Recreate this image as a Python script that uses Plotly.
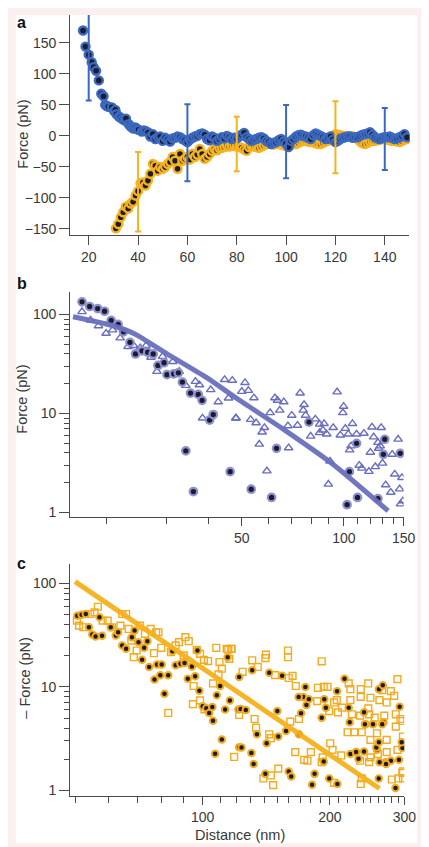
import plotly.graph_objects as go

W, H = 429, 847

# ---------------- Panel a data (distance nm, force pN) ----------------
blue_a = [(17.7,170),(18.7,144),(20,131),(21.2,119),(22,111),(23,105),(24.1,89.5),(25.1,68),(26,64),
          (26.7,50),(27.3,48),(28,47),(29.4,46),(30.3,40),(30.8,42),(31.3,35),(32.3,31),(32.8,30),(33.6,27),
          (34.5,25),(35.1,28),(36.2,19),(36.8,16),(37.5,13.6),(38.2,12),(38.9,13.6),(39.6,11),(40.2,10),
          (41.5,7),(42.3,9),(43,8),(44.1,5.6),
          (45,-1),(46,3),(47,-5),(48,-2),(49,-1),(50,-8),(51,-3),(52,-6),(53,-9),(54,-4),(55,-3),(56,-1),
          (57,-2),(58,-5),(59,-7),(60,-10),(61,-6),(62,-3),(63,-1),(64,0),(65,3),(66,4),(67,2),(68,-5),
          (69,-7),(70,-1),(71,-3),(72,-8),(73,-5),(74,-2),(75,-4),(76,0),(77,-2),(78,-5),(79,-3),(80,-4),
          (81,-1),(82,2),(83,5),(84,-2),(85,-5),(86,-8),(87,-6),(88,-5),(89,-3),(90,-2),(91,-4),(92,-8),
          (93,-10),(94,-13),(95,-11),(96,-10),(97,-7),(98,-5),(99,-9),(100,-12),(101,-18),(102,-8),(103,-5),
          (104,-1),(105,1),(106,2),(107,0),(108,-1),(109,-3),(110,-5),(111,1),(112,4),(113,2),(114,0),
          (115,-2),(116,-5),(117,-3),(118,-1),(119,-6),(120,-10),(121,-8),(122,-5),(123,-3),(124,-2),
          (125,-1),(126,-1),(127,-3),(128,-2),(129,-2),(130,0),(131,2),(132,3),(133,4),(134,6),(135,2),
          (136,-2),(137,-4),(138,-5),(139,-3),(140,-2),(141,-2),(142,-1),(143,-3),(144,-5),(145,-4),
          (146,-2),(147,0),(148,3),(149,-2)]

yellow_a = [(31,-149),(32,-142),(33,-131),(34,-123),(35,-114),(36,-117),(37,-109),(38,-106),(39,-96),
            (40,-89),(41,-76),(42,-75),(43,-80),(44,-72),(45,-61),(46,-45),(47,-48),(48,-56),(49,-50),
            (50,-53),(51,-50),(52,-45),(53,-42),(54,-34),(55,-40),(56,-53),(57,-29),(58,-40),(59,-37),
            (60,-34),(61,-38),(62,-29),(63,-34),(64,-30),(65,-21),(66,-29),(67,-37),(68,-34),(69,-29),
            (70,-24),(71,-21),(72,-23),(73,-20),(74,-19),(75,-18),(76,-16),(77,-17),(78,-16),(79,-15),
            (80,-17),(81,-18),(82,-19),(83,-22),(84,-24),(85,-18),(86,-16),(87,-17),(88,-18),(89,-19),
            (90,-17),(91,-15),(92,-13),(93,-12),(94,-13),(95,-14),(96,-13),(97,-12),(98,-14),(99,-15),
            (100,-16),(101,-15),(102,-14),(103,-13),(104,-13),(105,-11),(106,-9),(107,-8),(108,-8),
            (109,-9),(110,-10),(111,-10),(112,-12),(113,-13),(114,-13),(115,-11),(116,-9),(117,-8),
            (118,-4),(119,0),(120,3),(121,2),(122,1),(123,0),(124,0),(125,-1),(126,-1),(127,-1),(128,-2),
            (129,-5),(130,-9),(131,-12),(132,-13),(133,-11),(134,-9),(135,-8),(136,-8),(137,-7),(138,-6),
            (139,-5),(140,-5),(141,-6),(142,-7),(143,-8),(144,-8),(145,-9),(146,-10),(147,-8),(148,-6),(149,-5)]

# error bars: (x, centre, plus, minus)
blue_err = [(20,130,72,73),(60,-11,62,62),(100,-9,59,59),(140,-5,50,50)]
yellow_err = [(40,-90,64,64),(80,-13,44,44),(120,-2,58,58)]

# ---------------- Panel b data ----------------
b_circles = [(16.9,134.5),(17.8,120.6),(18.8,115),(19.7,108),(20.6,87.3),(21.6,79.5),(22.4,67),(23.4,52.4),
             (24.3,40),(25.4,43),(26.4,41.6),(27.4,40),(28.3,30.6),(29.5,32.6),(30.1,24.7),(31.5,25.2),
             (32.5,25.8),(33.4,20.8),(35.3,16.1),(37.2,15.6),(38.2,13.6),(40.2,8.6),(41.2,9.77),(34.2,4.2),
             (36.0,1.63),(46.2,2.59),(63.3,4.45),(53.3,1.72),(61.2,1.42),(78.9,8.2),(109,5.0),(132,5.5),
             (130.8,3.87),(146.6,3.96),(103.8,2.59),(109.7,1.42),(126,1.38),(102.2,1.2)]

b_triangles = [(16.9,106.7),(17.9,88),(18.9,77),(19.9,64.6),(20.8,69.8),(21.9,58),(23.1,47.5),(24.0,48.5),
               (25.1,46),(26.1,48.5),(27.0,37),(29.2,37.7),(31.3,33.5),(28.1,26.6),(32.7,26.6),(34.2,19.2),
               (36.5,21.1),(37.5,19.5),(38.3,9.0),(40.5,17.4),(42.6,13.1),(44.5,22),(46.9,21.6),(45.7,14.3),
               (48.0,9.0),(51.1,20.5),(50.0,16.7),(52.3,17.1),(54.3,14.4),(48.1,9.0),(53.1,8.7),(55.1,8.05),
               (58.3,7.2),(57.4,6.5),(56.3,4.9),(59.3,2.63),(60.6,10.2),(62.6,14.4),(63.7,13.6),(66.5,13.1),
               (64.7,10.8),(68.4,7.5),(70.2,9.6),(68.7,4.5),(74.3,16.1),(76.3,12.3),(75.9,10.8),(77.1,9.6),
               (73.0,7.6),(82.4,8.8),(84.8,7.8),(87.4,7.9),(86.7,6.8),(79.8,5.9),(84.8,6.4),(89.0,6.2),
               (91.0,3.3),(90.0,1.93),(93.0,7.2),(95.5,16.5),(97.6,6.05),(99.8,11.8),(99.3,10.2),(101,7.06),
               (106,7.9),(103,6.2),(105,4.7),(104,4.28),(109,6.2),(113,2.8),(111,3.0),(114.6,6.3),(118.5,2.6),
               (121,7.3),(122.4,5.8),(126.6,4.45),(119.7,4.06),(123.8,2.9),(128.8,7.2),(130,3.15),(128,4.7),
               (126,5.1),(132.8,1.9),(137.5,1.6),(144.5,5.5),(138.8,3.87),(141.2,2.44),(148.3,2.25),
               (146,1.73),(149.3,1.31),(146.9,1.22)]

b_fit = [(15.9,95),(20.6,78),(24.2,63.7),(30.1,40),(39.2,23.3),(48.5,14.1),(66.9,6.8),(93,3.06),(135,1.04)]

# ---------------- Panel c data ----------------
c_circles = [(50.5,48.9),(51.7,50),(52.9,50.8),(53.8,37.8),(54.8,32.1),(55.8,30.7),(57.8,31.2),(57,47.2),
             (60.6,37.8),(62.3,31.4),(63.1,33.8),(64.5,25.2),(65.9,23.4),(68,30.3),(69,35.1),(70.5,27.1),
             (72.7,23.9),(71.9,18.3),(74,27.7),(74.7,15.6),(78,16.5),(80,16.5),(79.4,13),(76.9,11.8),
             (81.2,8.6),(82.9,13),(84.8,22.2),(86.3,16.2),(88.6,16.8),(90.6,17),(92.2,12),(94.3,15.8),
             (96,12.7),(97.2,22.5),(98.2,9.2),(100,6.5),(102,6.2),(103.6,5.6),(105.8,4.7),(105.4,6.4),
             (108,8.3),(110,10.2),(113,6.06),(114.6,19.4),(116,7.4),(111,3.1),(107,2.25),(122,2.6),
             (121.5,6.06),(122,12.5),(131,14.5),(143.7,13.7),(154.2,12.8),(175,10),(173,8),(194,7.6),
             (208,9.1),(216.6,12),(243,4.35),(267.8,4.54),(292.5,6.43),(297,2.56),(270.6,1.87),(261,1.3),
             (286,1.05),(278.8,1.93),(291.4,1.97),(123,6.1),(126.5,5.97),(134.4,3.48),(123.6,2.59),
             (130.4,2.29),(132,1.79),(140.7,1.44),(141.7,2.85),(151,3.31),(150.2,5.84),(157.5,3.75),
             (159.8,1.52),(162,1.36),(169,3.48),(170.9,5.55),(168.7,8),(181.5,1.13),(184,1.44),(191.3,5.04),
             (193.4,1.9),(199.3,1.3),(208.3,1.15),(178.3,7.6),(176,6.7),(195.7,6.3),(222.8,4.54),
             (223.6,2.24),(233.7,2.02),(230.7,2.34),(240.9,2.37),(258.5,2.46),(262.2,1.87),(271.6,1.79),
             (252.9,4.35),(266,4.35),(242,4.35),(221.6,6.3),(257.6,2.59),(261.2,2.92),(295.7,2.92),
             (261.2,9.5),(240.9,5.67),(266.8,10.4)]

c_squares = [(50.4,43.8),(51,39.2),(52.2,37.8),(54.2,50.8),(55.5,52.7),(56.5,59.7),(58,43.8),(59.6,43.8),
             (61,37.8),(63.9,39.2),(64.5,50.8),(65.9,50.8),(66.8,36.4),(67.8,28.1),(68.7,19.4),(69.8,22.5),
             (71.1,39.2),(73,32.6),(75.3,36.4),(77.6,33.8),(78.6,33.8),(76.7,21.2),(79.8,23.9),(82.9,5.6),
             (84.1,21.7),(86.3,25.2),(87.9,27.1),(91,30.3),(92.7,27.7),(90.2,20.2),(95.2,10.2),(96.8,22.9),
             (98.6,20.9),(100.7,18.3),(103,17.8),(94.8,6.8),(98.6,7.4),(107.7,23.9),(109.6,17.4),(111,15),
             (115,22.9),(117,23.4),(115.6,18.7),(118.7,2.1),(122,5.35),(109,13.2),(105.8,10.8),(101,6.06),
             (131,18.1),(141.2,20.5),(140.7,19),(159.2,22.5),(159.2,19.4),(191.3,17.7),(124.3,14),(135,15.6),
             (148.4,13),(163.2,12.8),(159.8,12.2),(166.1,10.2),(187.4,9.8),(193.4,10),(197.5,10),(207.6,7.45),
             (223.6,9.5),(221.6,10.8),(236.6,9.5),(246.5,10.8),(266,9.3),(278.8,9.1),(289,11.9),(236.6,8),
             (249.5,7.85),(262,7.45),(272.5,7.07),(283.9,8.2),(223.6,7.45),(213.9,6.3),(204.6,7.07),
             (199.3,5.84),(209,5.67),(225.6,5.43),(235.8,5.27),(247.7,5.43),(255.3,5.04),(269,5.27),
             (286.4,5.43),(293.8,4.89),(220.3,3.64),(228.4,3.64),(237.9,3.64),(249.5,3.07),(258.5,3.56),
             (272.5,3.07),(297.8,3.31),(289,2.46),(272.5,2.34),(259.8,2.24),(249.5,2.08),(247.7,1.87),
             (235.8,1.93),(212.8,2.17),(202.9,2.46),(200.4,2.85),(192.3,2.08),(177,1.93),(173.9,1.97),
             (165.6,2.34),(180.3,2.34),(191.3,1.87),(151,1.62),(145,1.39),(139.2,1.3),(146.8,1.12),
             (204.6,1.18),(236.6,1.15),(237.9,1.3),(290.4,1.3),(297.8,1.3),(296.8,1.47),(280.3,1.27),
             (143.7,3.48),(145,3.19),(133.8,4.04),(132.7,4.89),(186.6,7.29),(246.5,6.2),(286.4,4.13),
             (297,4.68),(297.8,1.52),(169,4.89),(161.2,4.61),(114,23.4),(117,23.4)]

c_fit = [(49.9,104.5),(262,1.04)]

# tick values
a_xticks = [20, 40, 60, 80, 100, 120, 140]
a_yticks = [-150, -100, -50, 0, 50, 100, 150]
b_xticks = [50, 100, 150]
b_xminor = [20, 30, 40, 60, 70, 80, 90, 110, 120, 130, 140]
c_xticks = [100, 200, 300]
c_xminor = [50, 60, 70, 80, 90, 110, 120, 130, 140, 150, 160, 170, 180, 190,
            210, 220, 230, 240, 250, 260, 270, 280, 290]
log_yticks = [1, 10, 100]
log_yminor = [2, 3, 4, 5, 6, 7, 8, 9, 20, 30, 40, 50, 60, 70, 80, 90]

# ---------------- styling ----------------
DARK = "#1c1c2c"
BLUE = "#3b69c0"
YEL = "#f5b320"
LAV = "#8e91d0"
TRI = "#6a6ebf"
BLINE = "#6a6fbd"
ORG = "#f4aa1e"
CLINE = "#f6b01c"
AX = "#4a4a4a"
TXT = "#383838"
FONT = "Liberation Sans, Arial, Helvetica, sans-serif"


def xs(p):
    return [v[0] for v in p]


def ys(p):
    return [v[1] for v in p]


fig = go.Figure()

# panel a
fig.add_trace(go.Scatter(x=xs(yellow_a), y=ys(yellow_a), mode="markers", xaxis="x", yaxis="y",
                         marker=dict(size=8, color=DARK, line=dict(color=YEL, width=2.4))))
fig.add_trace(go.Scatter(x=xs(blue_a), y=ys(blue_a), mode="markers", xaxis="x", yaxis="y",
                         marker=dict(size=8, color=DARK, line=dict(color=BLUE, width=2.4))))
for errs, col in ((yellow_err, YEL), (blue_err, BLUE)):
    fig.add_trace(go.Scatter(x=[e[0] for e in errs], y=[e[1] for e in errs], mode="markers",
                             xaxis="x", yaxis="y",
                             marker=dict(size=1, color="rgba(0,0,0,0)"),
                             error_y=dict(type="data", symmetric=False,
                                          array=[e[2] for e in errs], arrayminus=[e[3] for e in errs],
                                          color=col, thickness=2, width=3)))

# panel b
fig.add_trace(go.Scatter(x=xs(b_triangles), y=ys(b_triangles), mode="markers", xaxis="x2", yaxis="y2",
                         marker=dict(symbol="triangle-up-open", size=7.5, color=TRI, line=dict(color=TRI, width=1.4))))
fig.add_trace(go.Scatter(x=xs(b_circles), y=ys(b_circles), mode="markers", xaxis="x2", yaxis="y2",
                         marker=dict(size=7.5, color=DARK, line=dict(color=LAV, width=2.2))))
fig.add_trace(go.Scatter(x=xs(b_fit), y=ys(b_fit), mode="lines", xaxis="x2", yaxis="y2",
                         line=dict(color=BLINE, width=5, shape="spline", smoothing=0.6), opacity=0.95))

# panel c
fig.add_trace(go.Scatter(x=xs(c_squares), y=ys(c_squares), mode="markers", xaxis="x3", yaxis="y3",
                         marker=dict(symbol="square-open", size=6.8, color=ORG, line=dict(color=ORG, width=1.4))))
fig.add_trace(go.Scatter(x=xs(c_circles), y=ys(c_circles), mode="markers", xaxis="x3", yaxis="y3",
                         marker=dict(size=6.5, color=DARK, line=dict(color=ORG, width=2))))
fig.add_trace(go.Scatter(x=xs(c_fit), y=ys(c_fit), mode="lines", xaxis="x3", yaxis="y3",
                         line=dict(color=CLINE, width=5), opacity=0.95))

base_axis = dict(showgrid=False, zeroline=False, showline=True, linecolor=AX, linewidth=1.2,
                 ticks="outside", tickcolor=AX, tickwidth=1.2,
                 tickfont=dict(family=FONT, size=14, color=TXT))

fig.update_layout(
    width=W, height=H, margin=dict(l=0, r=0, t=0, b=0), autosize=False,
    paper_bgcolor="#fbeff0", plot_bgcolor="white", showlegend=False,
    font=dict(family=FONT, size=14, color=TXT),
    xaxis=dict(base_axis, domain=[64 / W, 413 / W], range=[12.5, 150], tickmode="array",
               tickvals=a_xticks, ticklen=9, anchor="y"),
    yaxis=dict(base_axis, domain=[1 - 228 / H, 1 - 7 / H], range=[-160, 195], tickmode="array",
               tickvals=a_yticks, ticklen=10, anchor="x"),
    xaxis2=dict(base_axis, type="log", domain=[64 / W, 407 / W], range=[1.1931, 2.1761],
                tickmode="array", tickvals=b_xticks, ticktext=[str(v) for v in b_xticks], ticklen=8,
                minor=dict(tickmode="array", tickvals=b_xminor, ticks="outside", ticklen=6,
                           tickcolor=AX, tickwidth=1.2),
                anchor="y2"),
    yaxis2=dict(base_axis, type="log", domain=[1 - 511 / H, 1 - 285 / H], range=[-0.047, 2.228],
                tickmode="array", tickvals=log_yticks, ticktext=[str(v) for v in log_yticks], ticklen=10,
                minor=dict(tickmode="array", tickvals=log_yminor, ticks="outside", ticklen=5,
                           tickcolor=AX, tickwidth=1.2),
                anchor="x2"),
    xaxis3=dict(base_axis, type="log", domain=[64 / W, 407.7 / W], range=[1.6866, 2.4771],
                tickmode="array", tickvals=c_xticks, ticktext=[str(v) for v in c_xticks], ticklen=8,
                minor=dict(tickmode="array", tickvals=c_xminor, ticks="outside", ticklen=6,
                           tickcolor=AX, tickwidth=1.2),
                anchor="y3"),
    yaxis3=dict(base_axis, type="log", domain=[1 - 790.7 / H, 1 - 558 / H], range=[-0.0548, 2.1894],
                tickmode="array", tickvals=log_yticks, ticktext=[str(v) for v in log_yticks], ticklen=10,
                minor=dict(tickmode="array", tickvals=log_yminor, ticks="outside", ticklen=5,
                           tickcolor=AX, tickwidth=1.2),
                anchor="x3"),
)

# white panel behind everything
fig.add_shape(type="rect", xref="paper", yref="paper", x0=8 / W, x1=421 / W, y0=1 - 838 / H, y1=1 - 7 / H,
              fillcolor="white", line=dict(width=0), layer="below")

ann = []
for lab, yy in (("a", 14.6), ("b", 276.6), ("c", 557)):
    ann.append(dict(text="<b>%s</b>" % lab, x=7 / W, y=1 - yy / H, xref="paper", yref="paper",
                    xanchor="left", yanchor="middle", showarrow=False,
                    font=dict(family=FONT, size=16, color="#111111")))
for txt, xx, yy in (("Force (pN)", 14.5, 127), ("Force (pN)", 14.5, 393), ("– Force (pN)", 17.5, 673)):
    ann.append(dict(text=txt, x=xx / W, y=1 - yy / H, xref="paper", yref="paper", textangle=-90,
                    xanchor="center", yanchor="middle", showarrow=False,
                    font=dict(family=FONT, size=14.5, color=TXT)))
ann.append(dict(text="Distance (nm)", x=239 / W, y=1 - 830 / H, xref="paper", yref="paper",
                xanchor="center", yanchor="middle", showarrow=False,
                font=dict(family=FONT, size=14.5, color=TXT)))
fig.update_layout(annotations=ann)

fig.write_html("out.html")
